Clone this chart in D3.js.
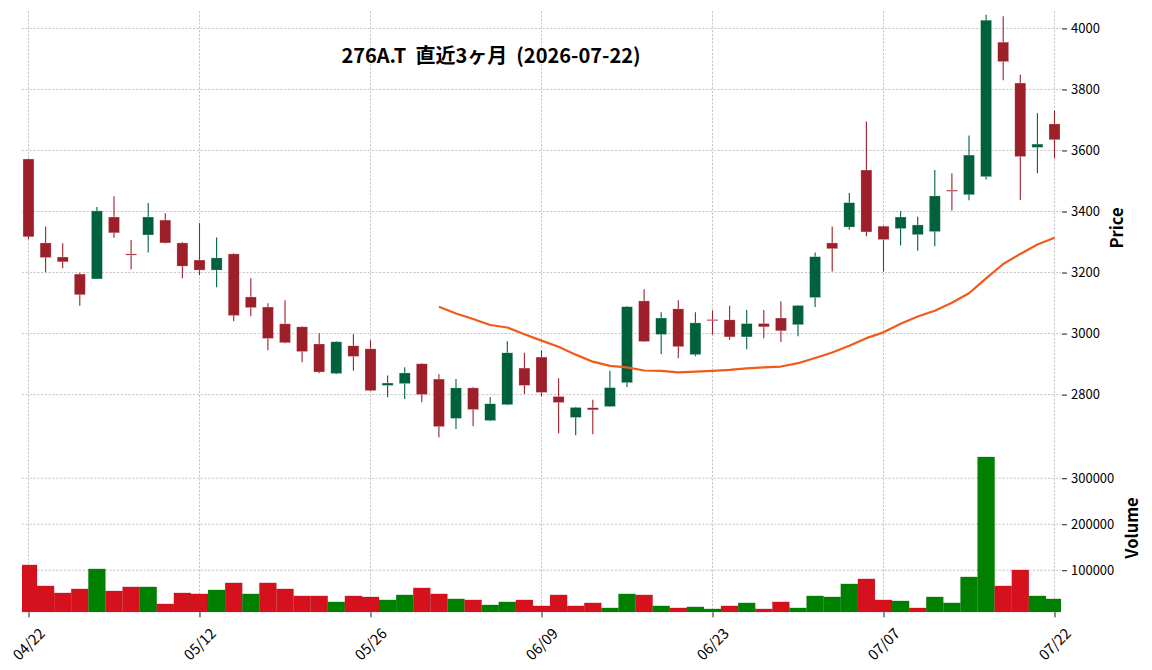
<!DOCTYPE html>
<html lang="ja">
<head>
<meta charset="utf-8">
<title>276A.T 直近3ヶ月</title>
<script src="https://cdn.jsdelivr.net/npm/d3@7"></script>
<style>
  html, body { margin:0; padding:0; background:#fff; overflow:hidden }
  svg { display:block }
  text { font-family: "Noto Sans CJK JP", "Noto Sans", sans-serif; fill:#000 }
</style>
</head>
<body>
<svg id="chart" width="1152" height="670"></svg>
<script>
// trading days (2026)
var dates = ["04/22","04/23","04/24","04/27","04/28","04/30","05/01","05/07","05/08","05/11",
             "05/12","05/13","05/14","05/15","05/18","05/19","05/20","05/21","05/22","05/25",
             "05/26","05/27","05/28","05/29","06/01","06/02","06/03","06/04","06/05","06/08",
             "06/09","06/10","06/11","06/12","06/15","06/16","06/17","06/18","06/19","06/22",
             "06/23","06/24","06/25","06/26","06/29","06/30","07/01","07/02","07/03","07/06",
             "07/07","07/08","07/09","07/10","07/13","07/14","07/15","07/16","07/17","07/21",
             "07/22"];

var open = [3572,3297,3251,3195,3179,3382,3261,3323,3372,3297,
            3241,3208,3261,3120,3087,3032,3022,2966,2869,2960,
            2950,2830,2836,2901,2851,2722,2822,2715,2767,2887,
            2923,2794,2725,2757,2761,2839,3107,2997,3081,2931,
            3046,3045,2989,3033,3051,3029,3118,3297,3349,3536,
            3352,3344,3324,3334,3470,3455,3514,3955,3821,3610,
            3687];
var high = [3574,3351,3296,3199,3415,3450,3307,3428,3394,3300,
            3362,3315,3263,3181,3099,3109,3024,3001,2975,2998,
            2978,2863,2890,2903,2867,2851,2825,2791,2975,2937,
            2944,2854,2760,2783,2878,3090,3145,3070,3109,3070,
            3076,3091,3077,3077,3106,3094,3266,3351,3461,3695,
            3354,3401,3383,3536,3525,3649,4045,4040,3849,3722,
            3731];
var low = [3309,3201,3214,3091,3179,3314,3211,3266,3295,3181,
           3191,3152,3040,3057,2945,2968,2906,2870,2867,2878,
           2811,2791,2786,2775,2660,2687,2696,2713,2765,2802,
           2794,2673,2667,2670,2759,2825,2972,2932,2919,2926,
           2997,2980,2949,2985,2972,2991,3087,3203,3340,3319,
           3203,3289,3271,3286,3403,3437,3505,3830,3438,3525,
           3574];
var close = [3317,3249,3235,3127,3402,3330,3259,3382,3297,3221,
             3208,3248,3059,3085,2984,2970,2941,2874,2973,2925,
             2813,2838,2871,2800,2695,2822,2751,2770,2937,2830,
             2807,2774,2758,2750,2823,3088,2974,3051,2957,3035,
             3044,2989,3033,3022,3009,3092,3252,3278,3429,3333,
             3308,3382,3356,3451,3468,3585,4027,3891,3580,3621,
             3635];
var volume = [111600,65900,50700,59400,102900,55000,63800,63800,26800,50700,
              48600,57200,72500,48600,72500,59400,44200,44200,31200,44200,
              42000,35500,46400,61600,48600,37700,35500,24600,31200,35500,
              22500,46400,22500,29000,18100,48600,46400,22500,18100,20300,
              15900,22500,29000,15900,31200,18100,44200,42000,70300,81200,
              35500,33300,18100,42000,29000,85500,346400,65900,100700,44200,
              37700];
// 25-day moving average, first value at day index 24
var maStart = 24;
var ma25 = [3088,3066,3048,3028,3020,2998,2977,2957,2931,2908,2894,2889,
            2879,2878,2873,2875,2878,2881,2886,2889,2892,2903,2920,2938,
            2960,2985,3004,3032,3056,3075,3101,3132,3181,3228,3261,3292,3314];

var priceTicks = [2800,3000,3200,3400,3600,3800,4000];
var volTicks = [100000,200000,300000];
var dateTicks = [0,10,20,30,40,50,60];
var title = "276A.T  直近3ヶ月  (2026-07-22)";

// colours
var upCol = "#00613d", downCol = "#9d1f2a";
var vUp = "#008000", vDown = "#d5111d";
var maCol = "#f25a1a", gridCol = "#b8b8b8";

// layout
var L = 22, R = 1061;
var pTop = 11, pBot = 441, vBot = 612.3;

var svg = d3.select("#chart");
var n = dates.length;

var x = d3.scaleLinear().domain([-0.38, n - 1 + 0.38]).range([L, R]);
var yP = d3.scaleLinear().domain([2648, 4057]).range([pBot, pTop]);
var yV = d3.scaleLinear().domain([8500, 381000]).range([vBot, pBot]);
var step = x(1) - x(0);

svg.append("defs").append("clipPath").attr("id", "clipV")
   .append("rect").attr("x", L).attr("y", pBot - 2).attr("width", R - L).attr("height", vBot - pBot + 2);

// grid
var grid = svg.append("g").attr("stroke", gridCol).attr("stroke-width", 0.8)
              .attr("stroke-dasharray", "2.2,1.6").attr("fill", "none");
grid.selectAll(".gx").data(dateTicks).enter().append("line")
    .attr("x1", function(d) {return x(d);}).attr("x2", function(d) {return x(d);})
    .attr("y1", pTop).attr("y2", vBot);
grid.selectAll(".gp").data(priceTicks).enter().append("line")
    .attr("x1", L).attr("x2", R)
    .attr("y1", function(d) {return yP(d);}).attr("y2", function(d) {return yP(d);});
grid.selectAll(".gv").data(volTicks).enter().append("line")
    .attr("x1", L).attr("x2", R)
    .attr("y1", function(d) {return yV(d);}).attr("y2", function(d) {return yV(d);});

// volume bars: colour by close vs previous close
var idx = d3.range(n);
svg.append("g").attr("clip-path", "url(#clipV)")
   .selectAll("rect").data(idx).enter().append("rect")
   .attr("x", function(i) {return x(i) - step / 2;})
   .attr("width", step)
   .attr("y", function(i) {return yV(volume[i]);})
   .attr("height", function(i) {return vBot - yV(volume[i]);})
   .attr("fill", function(i) {
       var up = i == 0 ? close[i] >= open[i] : close[i] >= close[i - 1];
       return up ? vUp : vDown;})
   .attr("stroke", "rgba(0,0,0,0.12)").attr("stroke-width", 0.5);

// candles
var bodyW = step * 0.645;
var candles = svg.append("g").selectAll("g").data(idx).enter().append("g");
candles.append("line")
   .attr("x1", function(i) {return x(i);}).attr("x2", function(i) {return x(i);})
   .attr("y1", function(i) {return yP(high[i]);}).attr("y2", function(i) {return yP(low[i]);})
   .attr("stroke", function(i) {return close[i] >= open[i] ? upCol : downCol;})
   .attr("stroke-width", 1.1);
candles.append("rect")
   .attr("x", function(i) {return x(i) - bodyW / 2;})
   .attr("width", bodyW)
   .attr("y", function(i) {return yP(Math.max(open[i], close[i]));})
   .attr("height", function(i) {return Math.max(1.2, Math.abs(yP(open[i]) - yP(close[i])));})
   .attr("fill", function(i) {return close[i] >= open[i] ? upCol : downCol;})
   .attr("stroke", "rgba(255,255,255,0.55)").attr("stroke-width", 0.5);

// moving average
var maLine = d3.line()
   .x(function(d, k) {return x(maStart + k);})
   .y(function(d) {return yP(d);});
svg.append("path").datum(ma25).attr("d", maLine)
   .attr("fill", "none").attr("stroke", maCol).attr("stroke-width", 2.2)
   .attr("stroke-linejoin", "round");

// axes
var axP = svg.append("g").attr("transform", "translate(" + (R + 1) + ",0)")
   .call(d3.axisRight(yP).tickValues(priceTicks).tickSize(5).tickPadding(4).tickFormat(d3.format("d")));
var axV = svg.append("g").attr("transform", "translate(" + (R + 1) + ",0)")
   .call(d3.axisRight(yV).tickValues(volTicks).tickSize(5).tickPadding(4).tickFormat(d3.format("d")));
var axX = svg.append("g").attr("transform", "translate(0," + vBot + ")")
   .call(d3.axisBottom(x).tickValues(dateTicks).tickSize(5)
         .tickFormat(function(i) {return dates[i];}));

[axP, axV, axX].forEach(function(a) {
   a.select(".domain").remove();
   a.selectAll(".tick line").attr("stroke", "#000").attr("stroke-width", 0.9);
   a.selectAll(".tick text").attr("font-size", 13).attr("fill", "#000")
    .style("font-family", '"Noto Sans CJK JP", "Noto Sans", sans-serif');
});
axX.selectAll(".tick text")
   .attr("font-size", 14.5)
   .attr("y", 0).attr("dy", "0.35em")
   .attr("text-anchor", "middle")
   .attr("transform", "translate(0,32) rotate(-45)");

// labels
svg.append("text").attr("transform", "translate(1123,228) rotate(-90)")
   .attr("text-anchor", "middle").attr("font-size", 16.5).attr("font-weight", "bold")
   .text("Price");
svg.append("text").attr("transform", "translate(1138,528) rotate(-90)")
   .attr("text-anchor", "middle").attr("font-size", 16.5).attr("font-weight", "bold")
   .text("Volume");

svg.append("text").attr("x", 491).attr("y", 63)
   .attr("text-anchor", "middle").attr("font-size", 20).attr("font-weight", "bold")
   .style("white-space", "pre").attr("xml:space", "preserve")
   .text(title);
</script>
</body>
</html>
